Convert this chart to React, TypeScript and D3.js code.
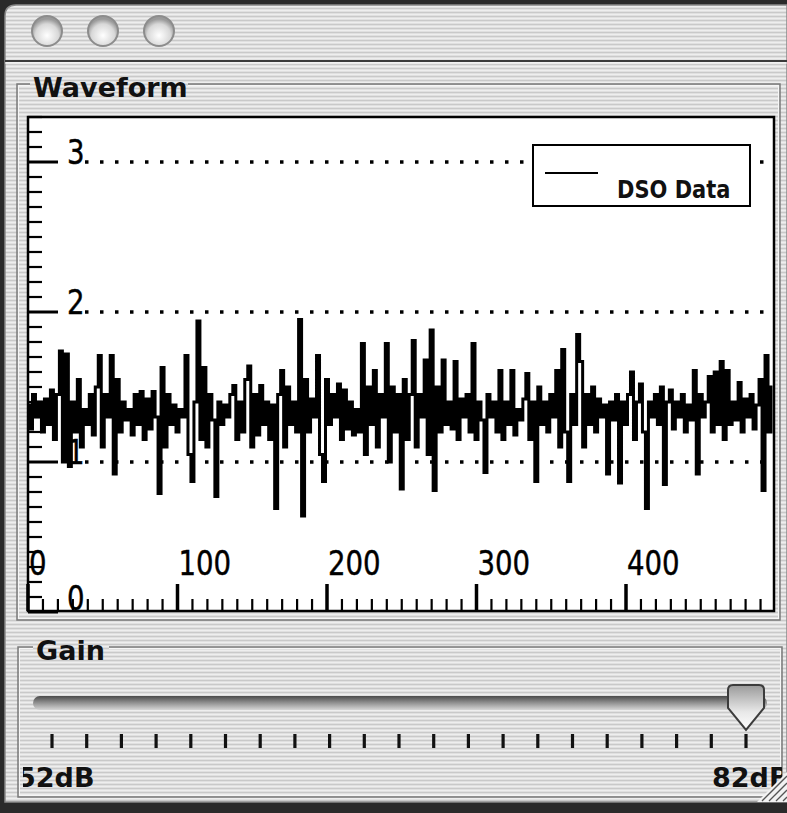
import React, { useEffect, useRef } from "react";
import * as d3 from "d3";

// DSO samples, one every 2 time units
const samples = [
  1.38, 1.22, 1.45, 1.30, 1.40, 1.20, 1.42, 1.25, 1.48, 1.15,
  1.45, 1.74, 1.00, 1.72, 0.97, 1.40, 1.20, 1.55, 1.10, 1.35,
  1.25, 1.45, 1.18, 1.50, 1.71, 1.10, 1.45, 1.30, 1.71, 0.92,
  1.55, 1.20, 1.40, 1.28, 1.35, 1.18, 1.45, 1.25, 1.47, 1.15,
  1.42, 1.22, 1.47, 1.30, 0.79, 1.63, 1.10, 1.45, 1.25, 1.38,
  1.20, 1.35, 1.30, 1.71, 1.05, 0.87, 1.40, 1.94, 1.15, 1.63,
  1.10, 1.45, 1.28, 0.77, 1.40, 1.25, 1.38, 1.30, 1.45, 1.51,
  1.15, 1.40, 1.20, 1.55, 1.64, 1.10, 1.45, 1.18, 1.51, 1.25,
  1.40, 1.15, 1.38, 0.69, 1.45, 1.61, 1.10, 1.50, 1.25, 1.40,
  1.20, 1.95, 0.64, 1.55, 1.20, 1.42, 1.30, 1.71, 1.05, 0.87,
  1.55, 1.25, 1.45, 1.30, 1.52, 1.15, 1.48, 1.22, 1.40, 1.18,
  1.35, 1.20, 1.79, 1.05, 1.50, 1.25, 1.61, 1.10, 1.45, 1.30,
  1.79, 1.00, 1.50, 1.20, 1.45, 0.82, 1.55, 1.15, 1.45, 1.81,
  1.10, 1.45, 1.30, 1.68, 1.05, 1.88, 0.81, 1.50, 1.20, 1.68,
  1.25, 1.40, 1.22, 1.67, 1.15, 1.42, 1.30, 1.45, 1.20, 1.79,
  1.15, 1.40, 1.28, 0.93, 1.45, 1.30, 1.40, 1.20, 1.61, 1.15,
  1.40, 1.25, 1.61, 1.18, 1.35, 1.28, 1.42, 1.59, 1.15, 1.40,
  0.87, 1.50, 1.25, 1.40, 1.20, 1.45, 1.30, 1.61, 1.10, 1.75,
  1.20, 0.87, 1.45, 1.25, 1.85, 1.67, 1.10, 1.45, 1.25, 1.50,
  1.20, 1.42, 1.30, 1.38, 0.92, 1.40, 1.28, 1.45, 0.86, 1.40,
  1.25, 1.45, 1.60, 1.15, 1.40, 1.52, 1.20, 0.69, 1.40, 1.30,
  1.45, 1.25, 1.50, 0.85, 1.40, 1.48, 1.22, 1.40, 1.30, 1.45,
  1.20, 1.38, 1.28, 1.61, 0.92, 1.45, 1.30, 1.40, 1.57, 1.20,
  1.60, 1.25, 1.67, 1.15, 1.61, 1.25, 1.40, 1.28, 1.53, 1.20,
  1.42, 1.30, 1.45, 1.22, 1.38, 1.55, 0.81, 1.71, 1.20, 1.50,
];
const sampleStep = 2;
const seriesName = "DSO Data";

const xTickValues = [0, 100, 200, 300, 400];
const yTickValues = [0, 1, 2, 3];
const gridValues = [1, 2, 3];

const gainMin = 52;
const gainMax = 82;
const gainValue = 82;
const gainStep = 1.5;
const gainLabels = ["52dB", "82dB"];

const W = 787, H = 813;
const plot = { left: 28, top: 117, right: 774, bottom: 611 };
const axisFont = "'DejaVu Sans', sans-serif";

export default function App() {
  const ref = useRef<SVGSVGElement>(null);

  useEffect(() => {
    const svg = d3.select(ref.current);
    svg.selectAll("*").remove();

    const defs = svg.append("defs");
    const pin = defs.append("pattern").attr("id", "pin")
      .attr("width", 4).attr("height", 4).attr("patternUnits", "userSpaceOnUse");
    pin.append("rect").attr("width", 4).attr("height", 4).attr("fill", "#e0e0e0");
    pin.append("rect").attr("width", 4).attr("height", 1).attr("fill", "#c9c9c9");
    pin.append("rect").attr("y", 2).attr("width", 4).attr("height", 1).attr("fill", "#eeeeee");

    const btn = defs.append("radialGradient").attr("id", "btn")
      .attr("cx", "50%").attr("cy", "65%").attr("r", "55%");
    btn.append("stop").attr("offset", "0%").attr("stop-color", "#ffffff");
    btn.append("stop").attr("offset", "70%").attr("stop-color", "#d8d8d8");
    btn.append("stop").attr("offset", "100%").attr("stop-color", "#9a9a9a");

    const track = defs.append("linearGradient").attr("id", "track")
      .attr("x1", 0).attr("y1", 0).attr("x2", 0).attr("y2", 1);
    track.append("stop").attr("offset", "0%").attr("stop-color", "#4a4a4a");
    track.append("stop").attr("offset", "45%").attr("stop-color", "#8c8c8c");
    track.append("stop").attr("offset", "100%").attr("stop-color", "#d6d6d6");

    const thumb = defs.append("linearGradient").attr("id", "thumb")
      .attr("x1", 0).attr("y1", 0).attr("x2", 0).attr("y2", 1);
    thumb.append("stop").attr("offset", "0%").attr("stop-color", "#9a9a9a");
    thumb.append("stop").attr("offset", "60%").attr("stop-color", "#e8e8e8");
    thumb.append("stop").attr("offset", "100%").attr("stop-color", "#ffffff");

    defs.append("clipPath").attr("id", "plotClip").append("rect")
      .attr("x", plot.left).attr("y", plot.top)
      .attr("width", plot.right - plot.left).attr("height", plot.bottom - plot.top);
    defs.append("clipPath").attr("id", "gainClip").append("rect")
      .attr("x", 23).attr("y", 650).attr("width", 759).attr("height", 145);

    // window
    svg.append("rect").attr("width", W).attr("height", H).attr("fill", "#2a2a2a");
    svg.append("path")
      .attr("d", `M5,802 L5,16 Q5,5 16,5 L${W},5 L${W},802 Z`)
      .attr("fill", "url(#pin)").attr("stroke", "#8a8a8a").attr("stroke-width", 1.5);
    svg.append("line").attr("x1", 5).attr("x2", W).attr("y1", 61).attr("y2", 61)
      .attr("stroke", "#3a3a3a").attr("stroke-width", 2);
    svg.append("line").attr("x1", 5).attr("x2", W).attr("y1", 63).attr("y2", 63)
      .attr("stroke", "#f4f4f4").attr("stroke-width", 1);
    [47, 103, 159].forEach(cx => {
      svg.append("circle").attr("cx", cx).attr("cy", 31).attr("r", 15)
        .attr("fill", "url(#btn)").attr("stroke", "#8c8c8c").attr("stroke-width", 2);
    });

    // group boxes
    const group = (x: number, y: number, w: number, h: number, label: string, lx: number, lw: number) => {
      svg.append("rect").attr("x", x).attr("y", y).attr("width", w).attr("height", h)
        .attr("fill", "none").attr("stroke", "#7a7a7a").attr("stroke-width", 1.5);
      svg.append("rect").attr("x", x + 1.5).attr("y", y + 1.5).attr("width", w - 3).attr("height", h - 3)
        .attr("fill", "none").attr("stroke", "#f6f6f6").attr("stroke-width", 1);
      svg.append("rect").attr("x", lx - 3).attr("y", y - 4).attr("width", lw + 6).attr("height", 8)
        .attr("fill", "url(#pin)");
      svg.append("text").attr("x", lx).attr("y", y + 13).text(label)
        .attr("font-family", axisFont).attr("font-weight", "bold").attr("font-size", 27).attr("fill", "#111");
    };
    group(17, 84, 763, 536, "Waveform", 33, 152);
    group(18, 647, 764, 150, "Gain", 36, 70);

    // plot area
    const x = d3.scaleLinear().domain([0, 500]).range([plot.left, 775.5]);
    const y = d3.scaleLinear().domain([0, 3]).range([612, 162]);

    svg.append("rect").attr("x", plot.left).attr("y", plot.top)
      .attr("width", plot.right - plot.left).attr("height", plot.bottom - plot.top)
      .attr("fill", "#fff").attr("stroke", "#000").attr("stroke-width", 2.5);

    // dotted grid
    svg.append("g").selectAll("line").data(gridValues).join("line")
      .attr("x1", 85).attr("x2", 772).attr("y1", d => y(d)).attr("y2", d => y(d))
      .attr("stroke", "#000").attr("stroke-width", 3.5).attr("stroke-dasharray", "3.5 11.5");

    // waveform, drawn as a stepped trace like the scope display
    const line = d3.line<number>().x((d, i) => x(i * sampleStep)).y(d => y(d))
      .curve(d3.curveStep);
    svg.append("path").datum(samples).attr("d", line)
      .attr("clip-path", "url(#plotClip)")
      .attr("fill", "none").attr("stroke", "#000").attr("stroke-width", 3)
      .attr("stroke-linejoin", "miter");

    // y ticks
    const yMinor = d3.range(0, 3.31, 0.1).filter(v => Math.abs(v - Math.round(v)) > 0.01);
    svg.append("g").selectAll("line").data(yMinor).join("line")
      .attr("x1", plot.left).attr("x2", plot.left + 14)
      .attr("y1", d => y(d)).attr("y2", d => y(d))
      .attr("stroke", "#000").attr("stroke-width", 2.2);
    svg.append("g").selectAll("line").data(yTickValues).join("line")
      .attr("x1", plot.left).attr("x2", plot.left + 30)
      .attr("y1", d => y(d)).attr("y2", d => y(d))
      .attr("stroke", "#000").attr("stroke-width", 3);
    svg.append("g").selectAll("text").data(yTickValues).join("text")
      .attr("transform", d => `translate(${plot.left + 39},${Math.min(y(d) + 2, 610)}) scale(0.92,1.15)`)
      .attr("font-family", axisFont).attr("font-size", 30).attr("fill", "#000")
      .attr("stroke", "#000").attr("stroke-width", 0.4)
      .text(d => String(d));

    // x ticks
    const xMinor = d3.range(10, 500, 10).filter(v => v % 100 !== 0);
    svg.append("g").selectAll("line").data(xMinor).join("line")
      .attr("x1", d => x(d)).attr("x2", d => x(d))
      .attr("y1", plot.bottom).attr("y2", plot.bottom - 12)
      .attr("stroke", "#000").attr("stroke-width", 2.2);
    svg.append("g").selectAll("line").data(xTickValues).join("line")
      .attr("x1", d => x(d)).attr("x2", d => x(d))
      .attr("y1", plot.bottom).attr("y2", plot.bottom - 27)
      .attr("stroke", "#000").attr("stroke-width", 3.5);
    svg.append("g").selectAll("text").data(xTickValues).join("text")
      .attr("transform", d => `translate(${x(d) + 1},575) scale(0.92,1.15)`)
      .attr("font-family", axisFont).attr("font-size", 30).attr("fill", "#000")
      .attr("stroke", "#000").attr("stroke-width", 0.4)
      .text(d => String(d));

    // legend
    const lg = svg.append("g");
    lg.append("rect").attr("x", 533).attr("y", 145).attr("width", 217).attr("height", 61)
      .attr("fill", "#fff").attr("stroke", "#000").attr("stroke-width", 2);
    lg.append("line").attr("x1", 545).attr("x2", 598).attr("y1", 173).attr("y2", 173)
      .attr("stroke", "#000").attr("stroke-width", 2);
    lg.append("text").attr("transform", "translate(617,198) scale(1,1.15)")
      .attr("font-family", axisFont).attr("font-weight", "bold").attr("font-size", 21)
      .attr("fill", "#111").text(seriesName);

    // gain slider
    const g = d3.scaleLinear().domain([gainMin, gainMax]).range([52, 746]);
    svg.append("rect").attr("x", 33).attr("y", 696).attr("width", 734).attr("height", 14)
      .attr("rx", 7).attr("fill", "url(#track)");
    svg.append("g").selectAll("line").data(d3.range(gainMin, gainMax + 0.01, gainStep)).join("line")
      .attr("x1", d => g(d)).attr("x2", d => g(d)).attr("y1", 734).attr("y2", 748)
      .attr("stroke", "#111").attr("stroke-width", 3.2);
    const tx = g(gainValue);
    svg.append("path")
      .attr("d", `M${tx - 18},690 Q${tx - 18},685 ${tx - 13},685 L${tx + 13},685 Q${tx + 18},685 ${tx + 18},690 L${tx + 18},708 L${tx},730 L${tx - 18},708 Z`)
      .attr("fill", "url(#thumb)").attr("stroke", "#3c3c3c").attr("stroke-width", 2);

    const gl = svg.append("g").attr("clip-path", "url(#gainClip)");
    gl.append("text").attr("x", 17).attr("y", 787).text(gainLabels[0])
      .attr("font-family", axisFont).attr("font-weight", "bold").attr("font-size", 27).attr("fill", "#111");
    gl.append("text").attr("x", 712).attr("y", 787).text(gainLabels[1])
      .attr("font-family", axisFont).attr("font-weight", "bold").attr("font-size", 27).attr("fill", "#111");

    // resize grip
    svg.append("path").attr("d", `M${W},772 L${W},802 L757,802 Z`).attr("fill", "#f2f2f2");
    d3.range(0, 4).forEach(i => {
      svg.append("line").attr("x1", 762 + i * 7).attr("y1", 801).attr("x2", W).attr("y2", 776 + i * 7)
        .attr("stroke", "#555").attr("stroke-width", 1.3);
    });
  }, []);

  return (
    <svg ref={ref} width={W} height={H}
      style={{ position: "absolute", left: 0, top: 0, display: "block" }} />
  );
}
